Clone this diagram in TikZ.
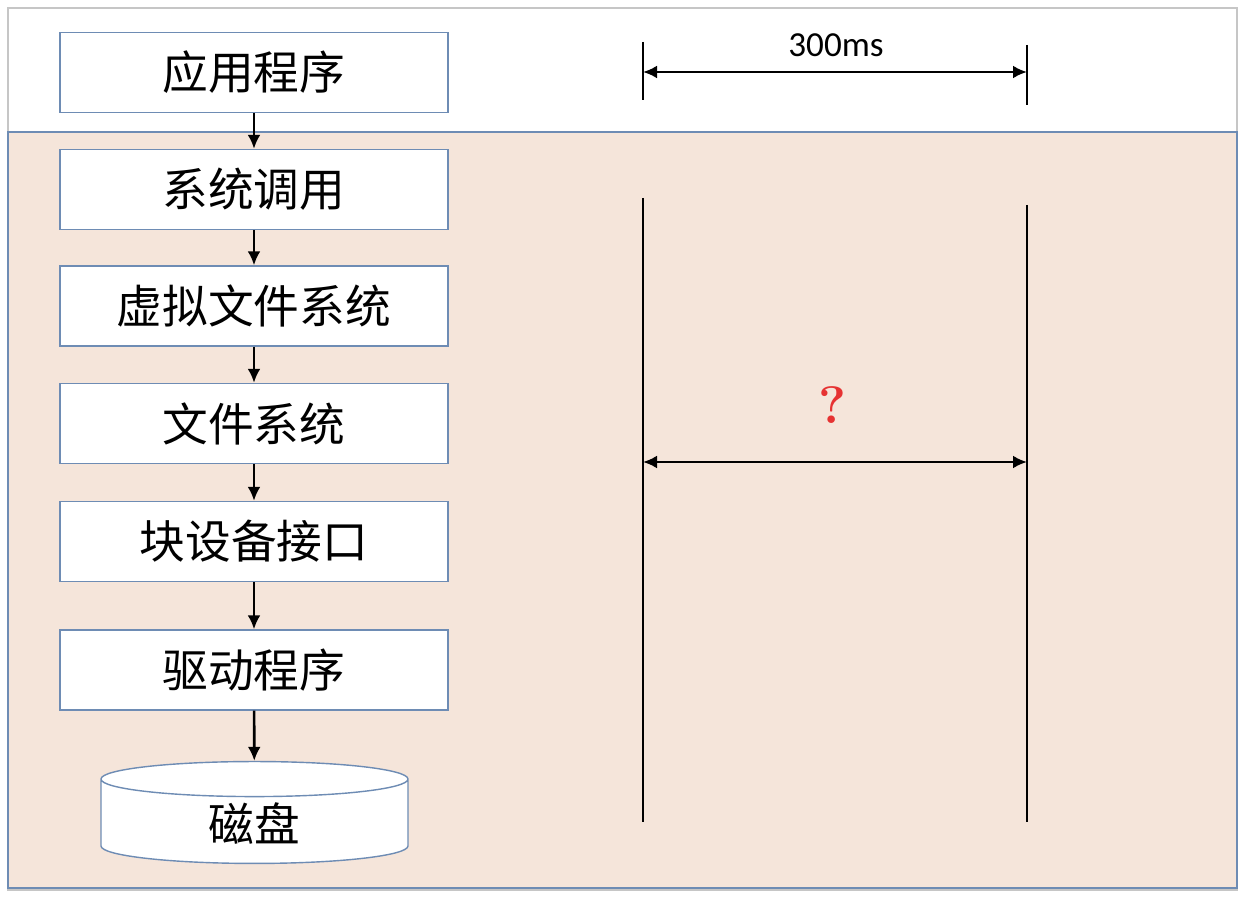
\documentclass[tikz,border=0pt]{standalone}
\usepackage{fontspec}
\newfontfamily\cjk{Noto Sans CJK SC}
\setsansfont{Carlito}
\usetikzlibrary{arrows.meta,shapes.geometric}
\definecolor{peach}{RGB}{245,229,218}
\definecolor{boxline}{RGB}{110,140,180}
\definecolor{qred}{RGB}{230,50,50}
\begin{document}
\begin{tikzpicture}[layer/.style = {draw = boxline, fill = white, line width = 0.8pt, minimum width = 7.76cm, minimum height = 1.6cm, font = \cjk\fontsize{26}{30}\selectfont},
  flow/.style = {-{Latex[length=2.8mm,width=2.6mm]}, line width = 1.5pt},
  span/.style = {{Latex[length=2.8mm,width=2.6mm]}-{Latex[length=2.8mm,width=2.6mm]}, line width = 1.5pt}]
\useasboundingbox (0,0) rectangle (24.84,-17.96);
\draw [draw = gray!45, fill = white, line width = 1pt] (0.16,-0.16) rectangle (24.74,-17.8);
\draw [draw = boxline, fill = peach, line width = 1.2pt] (0.16,-2.64) rectangle (24.74,-17.76);
\node[layer] (app) at (5.08,-1.45) {应用程序};
\node[layer] (syscall) at (5.08,-3.79) {系统调用};
\node[layer] (vfs) at (5.08,-6.12) {虚拟文件系统};
\node[layer] (fs) at (5.08,-8.47) {文件系统};
\node[layer] (blk) at (5.08,-10.83) {块设备接口};
\node[layer] (drv) at (5.08,-13.4) {驱动程序};
\node[draw = boxline, fill = white, line width = 0.8pt, cylinder, shape border rotate = 90, aspect = 0.34, minimum width = 6.14cm, minimum height = 1.76cm, font = \cjk\fontsize{26}{30}\selectfont] (disk) at (5.09,-16.48) {磁盘};
\foreach \a/\b in {app/syscall, syscall/vfs, vfs/fs, fs/blk, blk/drv, drv/disk} \draw [flow] (\a) -- (\b);
% timing marks
\coordinate (tl1) at (12.86,-0.84);
\coordinate (tl2) at (12.86,-2.0);
\coordinate (tr1) at (20.54,-0.9);
\coordinate (tr2) at (20.54,-2.1);
\coordinate (bl1) at (12.86,-3.96);
\coordinate (bl2) at (12.86,-16.44);
\coordinate (br1) at (20.54,-4.1);
\coordinate (br2) at (20.54,-16.44);
\draw [line width = 0.8pt] (tl1) -- (tl2) (tr1) -- (tr2) (bl1) -- (bl2) (br1) -- (br2);
\coordinate (ta) at (12.86,-1.44);
\coordinate (tb) at (20.54,-1.44);
\coordinate (qa) at (12.86,-9.24);
\coordinate (qb) at (20.54,-9.24);
\draw [span] (ta) -- (tb);
\node[font = \sffamily\fontsize{20}{24}\selectfont] (time) at (16.72,-0.9) {300ms};
\draw [span] (qa) -- (qb);
\node[text = qred, font = \bfseries\fontsize{30}{34}\selectfont] (ask) at (16.64,-8.1) {?};
\end{tikzpicture}
\end{document}
